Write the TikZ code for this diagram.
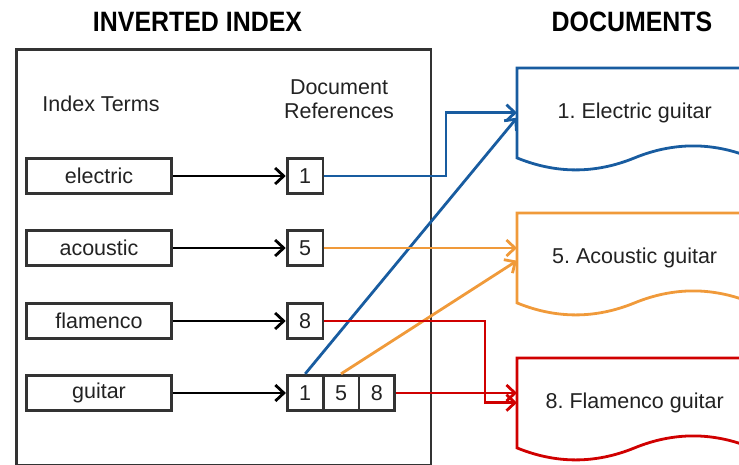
\documentclass[tikz,border=0pt]{standalone}
\usepackage{fontspec}
\setmainfont{Liberation Sans}
\newfontfamily\titlefont[FakeStretch=0.89]{Liberation Sans}
\usetikzlibrary{arrows.meta,calc}
\frenchspacing

\definecolor{boxgray}{HTML}{333333}
\definecolor{txtgray}{HTML}{222222}
\definecolor{docblue}{RGB}{24,92,160}
\definecolor{docorange}{RGB}{240,154,58}
\definecolor{docred}{RGB}{208,0,0}

\tikzset{
  title/.style={font=\titlefont\bfseries\fontsize{28}{30}\selectfont, text=black, inner sep=0pt},
  label/.style={font=\fontsize{21.5}{24}\selectfont, text=txtgray, align=center, inner sep=0pt},
  term/.style={draw=boxgray, line width=2.8pt, minimum width=145.5pt, minimum height=35.5pt,
    inner sep=0pt, font=\fontsize{21.5}{24}\selectfont, text=txtgray},
  ref/.style={draw=boxgray, line width=2.8pt, minimum width=35.8pt, minimum height=35.5pt,
    inner sep=0pt, font=\fontsize{21.5}{24}\selectfont, text=txtgray},
  doc/.style={minimum width=235pt, minimum height=90pt, inner sep=0pt, anchor=north west,
    font=\fontsize{21.5}{24}\selectfont, text=txtgray},
  link/.style={line width=2.8pt, -{Straight Barb[length=8.5pt,width=16pt,line width=2.8pt]}},
}

% document outline: flat top, wavy bottom, drawn from the node's south west corner
\newcommand\docoutline[2]{%
  \draw[#2, line width=2.8pt, line join=miter, shift={(#1.south west)}]
    (0,0) -- (0,-90) -- (235,-90) -- (235,0)
    .. controls (195.8,-16) and (156.7,-16) .. (117.5,0)
    .. controls (78.3,16) and (39.2,16) .. (0,0) -- cycle;}

\begin{document}
\begin{tikzpicture}[x=1pt,y=-1pt]
  \useasboundingbox (0,0) rectangle (739,464);
  \clip (0,0) rectangle (739,464);

  % titles
  \node[title] (tindex) at (197.5,22) {INVERTED INDEX};
  \node[title] (tdocs) at (632,22) {DOCUMENTS};

  % index frame
  \draw[boxgray, line width=2.8pt] (16.5,49.5) rectangle (431,465);
  \node[label] (hterms) at (101,104) {Index Terms};
  \node[label] (hrefs) at (339,99) {Document\\References};

  % index terms
  \node[term] (electric) at (99,176) {electric};
  \node[term] (acoustic) at (99,248) {acoustic};
  \node[term] (flamenco) at (99,321) {flamenco};
  \node[term] (guitar)   at (99,393) {guitar};

  % document references
  \node[ref] (r1) at (305,176) {1};
  \node[ref] (r5) at (305,248) {5};
  \node[ref] (r8) at (305,321) {8};
  \node[ref] (g1) at (305.2,393) {1};
  \node[ref] (g5) at (341,393) {5};
  \node[ref] (g8) at (376.8,393) {8};

  % documents
  \node[doc] (doc1) at (517,67.5) {1. Electric guitar};
  \node[doc] (doc2) at (517,212.5) {5. Acoustic guitar};
  \node[doc] (doc3) at (517,357.5) {8. Flamenco guitar};
  \docoutline{doc1}{docblue}
  \docoutline{doc2}{docorange}
  \docoutline{doc3}{docred}

  % term -> references
  \foreach \t/\r in {electric/r1, acoustic/r5, flamenco/r8, guitar/g1}
    \draw[link, black] (\t.east) -- (\r.west);

  % references -> documents
  \coordinate (bendblue) at (446,0);
  \coordinate (bendred) at (485,0);
  \draw[link, docblue] (r1.east) -| (bendblue |- doc1.west) -- (doc1.west);
  \draw[link, docblue] (g1.north) -- ($(doc1.west)+(0,5)$);
  \draw[link, docorange] (r5.east) -- (r5.east -| doc2.west);
  \draw[link, docorange] (g5.north) -- ($(doc2.west)+(0,3)$);
  \draw[link, docred] (r8.east) -| (bendred |- doc3.west) -- (doc3.west);
  \draw[link, docred] (g8.east) -- (g8.east -| doc3.west);
\end{tikzpicture}
\end{document}
